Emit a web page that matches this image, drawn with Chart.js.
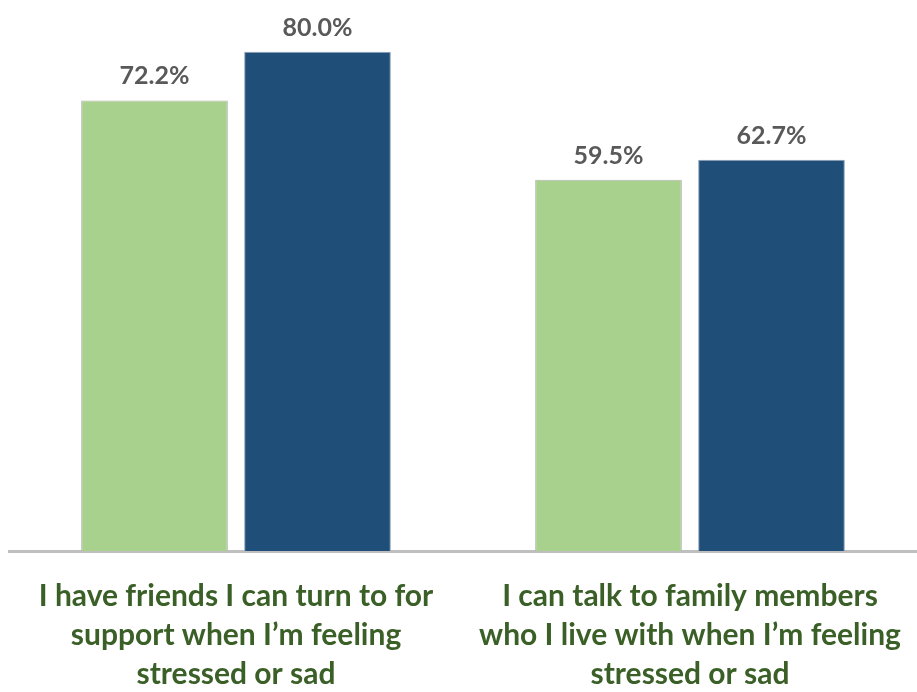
<!DOCTYPE html>
<html>
<head>
<meta charset="utf-8">
<script src="https://cdn.jsdelivr.net/npm/chart.js@4/dist/chart.umd.min.js"></script>
<style>
  html, body { margin: 0; padding: 0; background: #fff; }
  #wrap { width: 917px; height: 692px; }
</style>
</head>
<body>
<div id="wrap"><canvas id="chart"></canvas></div>
<script>
const categories = [
  ["I have friends I can turn to for", "support when I\u2019m feeling", "stressed or sad"],
  ["I can talk to family members", "who I live with when I\u2019m feeling", "stressed or sad"]
];
const seriesA = [72.2, 59.5];
const seriesB = [80.0, 62.7];

// draws the percentage above each bar
const valueLabels = {
  id: "valueLabels",
  afterDatasetsDraw(chart) {
    const ctx = chart.ctx;
    ctx.save();
    ctx.font = "bold 25px Lato";
    ctx.fillStyle = "#595959";
    ctx.textAlign = "center";
    ctx.textBaseline = "alphabetic";
    chart.data.datasets.forEach((ds, i) => {
      chart.getDatasetMeta(i).data.forEach((bar, j) => {
        ctx.fillText(ds.data[j].toFixed(1) + "%", bar.x, bar.y - 16);
      });
    });
    ctx.restore();
  }
};

new Chart(document.getElementById("chart"), {
  type: "bar",
  data: {
    labels: categories,
    datasets: [
      {
        data: seriesA,
        backgroundColor: "#A9D18E",
        borderColor: "#B4B4B4",
        borderWidth: 1,
        categoryPercentage: 0.718,
        barPercentage: 0.9
      },
      {
        data: seriesB,
        backgroundColor: "#1F4E79",
        borderColor: "#8EA3B8",
        borderWidth: 1,
        categoryPercentage: 0.718,
        barPercentage: 0.9
      }
    ]
  },
  options: {
    responsive: true,
    maintainAspectRatio: false,
    animation: false,
    layout: { padding: { left: 9, right: 0, top: 0, bottom: 0 } },
    plugins: {
      legend: { display: false },
      tooltip: { enabled: false }
    },
    scales: {
      x: {
        grid: { display: false },
        border: { display: true, color: "#BFBFBF", width: 3 },
        afterFit(scale) {
          scale.height = 141;
          scale.paddingLeft = 0;
          scale.paddingRight = 0;
        },
        ticks: {
          color: "#3A5F27",
          font: { family: "Lato", size: 30, weight: "bold", lineHeight: 1.3 },
          padding: 18,
          maxRotation: 0,
          autoSkip: false
        }
      },
      y: {
        display: false,
        min: 0,
        max: 88.3
      }
    }
  },
  plugins: [valueLabels]
});
</script>
</body>
</html>
